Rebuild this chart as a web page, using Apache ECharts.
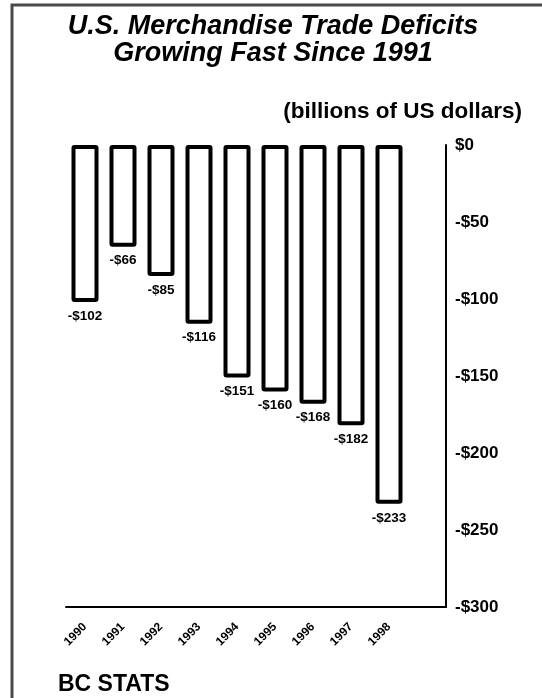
<!DOCTYPE html>
<html><head><meta charset="utf-8">
<script src="https://cdn.jsdelivr.net/npm/echarts@6/dist/echarts.min.js"></script>
<style>html,body{margin:0;padding:0;background:#fff}#c{width:542px;height:698px}</style>
</head><body><div id="c"></div>
<script>
const categories = ['1990','1991','1992','1993','1994','1995','1996','1997','1998',''];
const deficits = [-102, -66, -85, -116, -151, -160, -168, -182, -233];
const yTicks = [0, -50, -100, -150, -200, -250, -300];

const chart = echarts.init(document.getElementById('c'));
const fmt = v => v === 0 ? '$0' : '-$' + Math.abs(v);
const FF = 'Arial, "Liberation Sans", sans-serif';
chart.setOption({
  animation: false,
  backgroundColor: '#fff',
  graphic: [
    {type: 'rect', shape: {x: 12, y: 5, width: 620, height: 800}, style: {fill: 'none', stroke: '#4a4a4a', lineWidth: 3}, z: 100},
    {type: 'text', x: 273, y: 27, style: {text: 'U.S. Merchandise Trade Deficits', font: 'italic bold 27px ' + FF, fill: '#000', align: 'center', verticalAlign: 'middle'}},
    {type: 'text', x: 273, y: 54, style: {text: 'Growing Fast Since 1991', font: 'italic bold 27px ' + FF, fill: '#000', align: 'center', verticalAlign: 'middle'}},
    {type: 'text', x: 522, y: 112, style: {text: '(billions of US dollars)', font: 'bold 22.5px ' + FF, fill: '#000', align: 'right', verticalAlign: 'middle'}},
    {type: 'text', x: 58, y: 685, style: {text: 'BC STATS', font: 'bold 23px ' + FF, fill: '#000', align: 'left', verticalAlign: 'middle'}}
  ],
  grid: {left: 66, right: 96, top: 145, bottom: 91, containLabel: false},
  xAxis: {
    type: 'category', data: categories, position: 'bottom',
    axisLine: {onZero: false, lineStyle: {color: '#000', width: 2}},
    axisTick: {show: false},
    axisLabel: {rotate: 45, interval: 0, color: '#000', fontWeight: 'bold', fontSize: 12, fontFamily: FF, margin: 18}
  },
  yAxis: {
    type: 'value', position: 'right', min: -300, max: 0, interval: 50,
    axisLine: {show: true, lineStyle: {color: '#000', width: 2}},
    axisTick: {show: false},
    splitLine: {show: false},
    axisLabel: {formatter: fmt, color: '#000', fontWeight: 'bold', fontSize: 17, fontFamily: FF, margin: 9}
  },
  series: [{
    type: 'bar', data: deficits, barWidth: 27,
    itemStyle: {color: '#fff', borderColor: '#000', borderWidth: 4, borderRadius: 1},
    label: {show: true, position: 'bottom', distance: 7, formatter: p => fmt(p.value), color: '#000', fontWeight: 'bold', fontSize: 13.5, fontFamily: FF}
  }]
});
</script></body></html>
